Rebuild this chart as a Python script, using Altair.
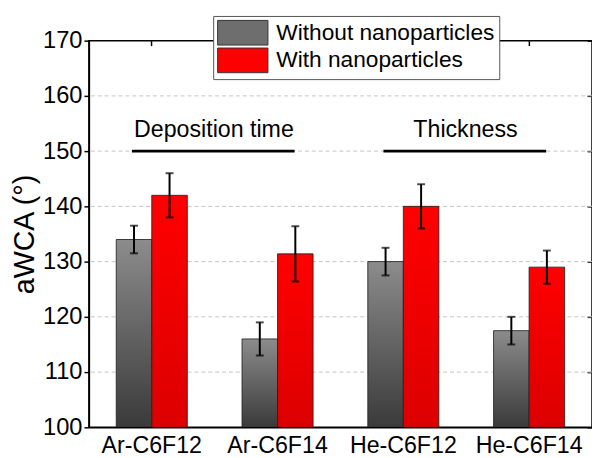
import altair as alt
import pandas as pd

categories = ["Ar-C6F12", "Ar-C6F14", "He-C6F12", "He-C6F14"]
series = ["Without nanoparticles", "With nanoparticles"]
without_vals = [134.0, 116.0, 130.0, 117.5]
without_err = [2.5, 3.0, 2.5, 2.5]
with_vals = [142.0, 131.4, 140.0, 129.0]
with_err = [4.0, 5.0, 4.0, 3.0]

group_labels = ["Deposition time", "Thickness"]
group_start = ["Ar-C6F12", "He-C6F12"]
group_end = ["Ar-C6F14", "He-C6F14"]
group_y = [150, 150]

y_ticks = [100, 110, 120, 130, 140, 150, 160, 170]
y_domain = [100, 170]
BASE = 100

rows = []
for i, c in enumerate(categories):
    rows.append({"category": c, "series": series[0], "value": without_vals[i],
                 "lo": without_vals[i] - without_err[i], "hi": without_vals[i] + without_err[i]})
    rows.append({"category": c, "series": series[1], "value": with_vals[i],
                 "lo": with_vals[i] - with_err[i], "hi": with_vals[i] + with_err[i]})
df = pd.DataFrame(rows)

ann = pd.DataFrame({"label": group_labels, "start": group_start, "end": group_end, "y": group_y})
grid_df = pd.DataFrame({"t": y_ticks[1:-1]})

FONT = "Liberation Sans"

xscale = alt.Scale(domain=categories, paddingInner=0.435, paddingOuter=0.2175)
yscale = alt.Scale(domain=y_domain, nice=False, zero=False)
oscale = alt.Scale(domain=series, paddingInner=0, paddingOuter=0)

grad_gray = alt.LinearGradient(
    gradient="linear",
    stops=[alt.GradientStop(color="#8c8c8c", offset=0), alt.GradientStop(color="#3a3a3a", offset=1)],
    x1=0, x2=0, y1=0, y2=1)
grad_red = alt.LinearGradient(
    gradient="linear",
    stops=[alt.GradientStop(color="#ff0000", offset=0), alt.GradientStop(color="#dc0000", offset=1)],
    x1=0, x2=0, y1=0, y2=1)

grid = alt.Chart(grid_df).mark_rule(color="#c4c4c4", strokeDash=[4, 3], strokeWidth=1).encode(
    y=alt.Y("t:Q", scale=yscale, axis=None)
)

bars = alt.Chart(df).mark_bar(stroke="#222222", strokeWidth=1, strokeOpacity=0.85).encode(
    x=alt.X("category:N", scale=xscale, sort=categories,
            axis=alt.Axis(orient="bottom", title=None, labelAngle=0, ticks=False,
                          labelFontSize=23.5, labelPadding=7, labelColor="black",
                          domainColor="black", domainWidth=1.5, grid=False, zindex=1)),
    xOffset=alt.XOffset("series:N", scale=oscale, sort=series),
    y=alt.Y("value:Q", scale=yscale,
            axis=alt.Axis(values=y_ticks, title="aWCA (°)", titleFontSize=29,
                          titleFontWeight="normal", titleColor="black", titlePadding=3,
                          labelFontSize=24, labelColor="black", labelPadding=2,
                          tickSize=5, tickColor="black", tickWidth=1.5,
                          domainColor="black", domainWidth=1.5, grid=False, zindex=1)),
    y2=alt.datum(BASE),
    fill=alt.when(alt.datum.series == series[0]).then(alt.value(grad_gray)).otherwise(alt.value(grad_red)),
)

err_rule = alt.Chart(df).mark_rule(color="black", strokeWidth=2).encode(
    x=alt.X("category:N", scale=xscale, sort=categories, axis=None),
    xOffset=alt.XOffset("series:N", scale=oscale, sort=series),
    y=alt.Y("lo:Q", scale=yscale, axis=None),
    y2="hi:Q",
)
err_top = alt.Chart(df).mark_tick(color="black", size=8, thickness=2).encode(
    x=alt.X("category:N", scale=xscale, sort=categories, axis=None),
    xOffset=alt.XOffset("series:N", scale=oscale, sort=series),
    y=alt.Y("hi:Q", scale=yscale, axis=None),
)
err_bot = alt.Chart(df).mark_tick(color="black", size=8, thickness=2).encode(
    x=alt.X("category:N", scale=xscale, sort=categories, axis=None),
    xOffset=alt.XOffset("series:N", scale=oscale, sort=series),
    y=alt.Y("lo:Q", scale=yscale, axis=None),
)

ann_rule = alt.Chart(ann).mark_rule(color="black", strokeWidth=2.7).encode(
    x=alt.X("start:N", scale=xscale, bandPosition=0.22, axis=None),
    x2=alt.X2("end", bandPosition=0.74),
    y=alt.Y("y:Q", scale=yscale, axis=None),
)
ann_text = alt.Chart(ann).mark_text(fontSize=23.5, font=FONT, color="black", baseline="alphabetic",
                                    align="center", dx=27, dy=-14.7).encode(
    x=alt.X("start:N", scale=xscale, bandPosition=1, axis=None),
    y=alt.Y("y:Q", scale=yscale, axis=None),
    text="label:N",
)

legend_layer = alt.Chart(df).mark_square(opacity=0).encode(
    x=alt.X("category:N", scale=xscale, sort=categories,
            axis=alt.Axis(orient="top", offset=-5, domain=False, labels=False, title=None,
                          tickSize=5, tickColor="black", tickWidth=1.5, grid=False)),
    y=alt.Y("value:Q", scale=yscale,
            axis=alt.Axis(orient="right", offset=-5, domain=False, labels=False, title=None,
                          values=y_ticks, tickSize=5, tickColor="black", tickWidth=1.5, grid=False)),
    color=alt.Color("series:N", scale=alt.Scale(domain=series, range=["#6e6e6e", "#ff0000"]),
                    legend=alt.Legend(title=None, orient="none", legendX=126, legendY=-25,
                                      direction="vertical",
                                      symbolType="M-2.04,-1H2.04V1H-2.04Z", symbolSize=625,
                                      symbolStrokeColor="#333333", symbolStrokeWidth=1,
                                      symbolOpacity=1, symbolOffset=13, labelOffset=21,
                                      labelFontSize=23, labelFont=FONT, labelColor="black",
                                      labelLimit=400, padding=4, rowPadding=-2,
                                      strokeColor="#555555", fillColor="white", zindex=2)),
)

chart = alt.layer(grid, bars, err_rule, err_top, err_bot, ann_rule, ann_text, legend_layer).resolve_axis(
    x="independent", y="independent"
).properties(
    width=510, height=392,
    autosize=alt.AutoSizeParams(type="none"),
    padding={"left": 82, "top": 30, "right": 0, "bottom": 28},
).configure(font=FONT).configure_view(stroke="black", strokeWidth=1.5)

chart.save("out.html", embed_options={"renderer": "svg", "actions": False})
